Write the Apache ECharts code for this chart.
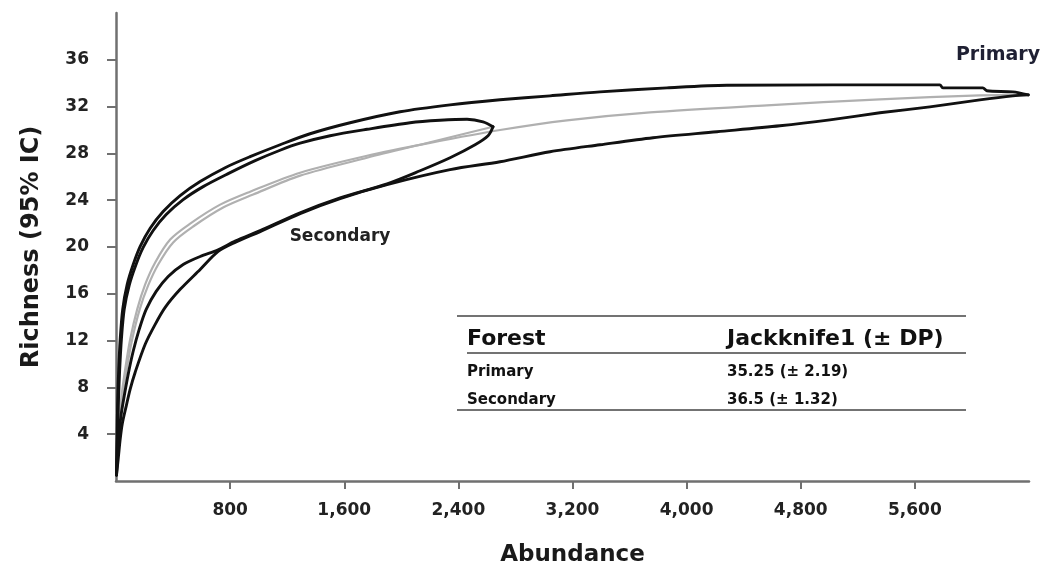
<!DOCTYPE html>
<html><head><meta charset="utf-8">
<script src="https://cdn.jsdelivr.net/npm/echarts@6/dist/echarts.min.js"></script>
<style>html,body{margin:0;padding:0;background:#fff}#c{width:1047px;height:572px}</style>
</head><body><div id="c"></div>
<script>
// ---- data ----
const xTicks = [800, 1600, 2400, 3200, 4000, 4800, 5600];
const yTicks = [4, 8, 12, 16, 20, 24, 28, 32, 36];

const primaryUpper = [[3.5,0.51],[7,3.58],[11.9,6.99],[18.9,9.55],[29.4,12.11],[46.9,14.67],[78.5,16.8],[120.5,18.5],[169.6,20.05],[239.6,21.6],[330.6,23.03],[449.7,24.39],[589.9,25.59],[765,26.78],[940.2,27.72],[1150.4,28.74],[1360.6,29.68],[1640.9,30.62],[1991.2,31.56],[2341.6,32.15],[2692,32.58],[3042.4,32.92],[3392.7,33.26],[3862.2,33.6],[4282.6,33.82],[5775.1,33.86],[5796.1,33.6],[6076.4,33.6],[6104.5,33.35],[6286.6,33.26],[6395,33.0]];
const primaryMean = [[3.5,0.51],[15.4,3.58],[36.4,6.99],[64.5,9.55],[99.5,12.11],[148.6,14.67],[204.6,16.8],[274.7,18.68],[379.8,20.64],[519.9,22.0],[730.1,23.62],[940.4,24.73],[1290.7,26.35],[1760.1,27.8],[2201.6,28.9],[2692.1,30.0],[3161.5,30.83],[3743.1,31.51],[4562.9,32.11],[5354.7,32.62],[6055.5,32.96],[6395,33.0]];
const primaryLower = [[3.5,0.51],[15.4,1.88],[29.4,3.58],[43.4,4.86],[71.5,6.4],[99.5,7.85],[134.5,9.3],[204.6,11.69],[274.7,13.39],[344.8,14.84],[449.9,16.38],[590,18.08],[716.1,19.62],[835.2,20.39],[1010.4,21.32],[1290.7,22.86],[1571,24.14],[1900.3,25.33],[2341.8,26.61],[2692.1,27.29],[3042.5,28.14],[3392.8,28.74],[3764.2,29.34],[4212.7,29.85],[4654.1,30.36],[5004.4,30.87],[5354.8,31.47],[5705.1,31.98],[6055.5,32.58],[6286.7,32.92],[6395,33.0]];

const secondaryUpper = [[3.5,0.51],[9.8,3.58],[17.5,6.99],[25.9,9.55],[37.8,12.11],[57.5,14.67],[92.5,16.72],[138,18.42],[190.6,19.96],[260.7,21.41],[351.8,22.77],[470.9,24.05],[611.1,25.16],[786.3,26.27],[975.5,27.38],[1150.4,28.27],[1290.6,28.87],[1500.9,29.51],[1760.1,30.06],[2061.4,30.62],[2271.6,30.83],[2460.8,30.92],[2572.9,30.7],[2643,30.28]];
const secondaryMean = [[3.5,0.51],[18.9,3.58],[43.4,6.99],[75,9.55],[113.5,12.11],[166.1,14.67],[225.6,16.72],[295.7,18.51],[400.8,20.39],[540.9,21.75],[751.1,23.37],[961.3,24.48],[1290.7,26.1],[1760.1,27.63],[2201.6,28.95],[2643,30.28]];
const secondaryLower = [[3.5,0.51],[11.9,2.56],[22.4,4.26],[36.4,5.71],[57.4,7.25],[85.5,9.13],[120.5,11.09],[162.6,12.96],[211.6,14.67],[281.7,16.21],[365.8,17.48],[470.9,18.51],[590,19.19],[716.1,19.75],[835.2,20.5],[1010.4,21.4],[1290.7,22.93],[1571,24.2],[1900.3,25.4],[2131.6,26.52],[2341.8,27.63],[2517,28.74],[2608.1,29.51],[2643,30.28]];

const tableHeader = ['Forest', 'Jackknife1 (\u00b1 DP)'];
const tableRows = [['Primary', '35.25 (\u00b1 2.19)'], ['Secondary', '36.5 (\u00b1 1.32)']];
const curveLabels = [{text: 'Primary', x: 998, y: 55, size: 19, color: '#1f2033'}, {text: 'Secondary', x: 340, y: 237, size: 17, color: '#222'}];

// ---- chart ----
const chart = echarts.init(document.getElementById('c'));
const FONT = 'DejaVu Sans';
const axisColor = '#707070';
const txt = '#1a1a1a';

function line(name, data, color, width, z) {
  return {
    name, type: 'line', data, showSymbol: false, symbol: 'none',
    smooth: 0.3, z,
    lineStyle: {color, width, join: 'round', cap: 'round'}, silent: true
  };
}

const graphics = [];
curveLabels.forEach(l => graphics.push({
  type: 'text', x: l.x, y: l.y,
  style: {text: l.text, fill: l.color, font: 'bold ' + l.size + 'px "' + FONT + '"', align: 'center', verticalAlign: 'middle'}
}));
const tx0 = 457, tx1 = 966, col1 = 467, col2 = 727;
[[316, tx0], [353, 467], [410, tx0]].forEach(([y, x0]) => graphics.push({
  type: 'line', shape: {x1: x0, y1: y, x2: tx1, y2: y}, style: {stroke: '#444', lineWidth: 1.3}
}));
graphics.push({type: 'text', x: col1, y: 339, style: {text: tableHeader[0], fill: '#111', font: 'bold 22px "' + FONT + '"', verticalAlign: 'middle'}});
graphics.push({type: 'text', x: col2, y: 339, style: {text: tableHeader[1], fill: '#111', font: 'bold 22px "' + FONT + '"', verticalAlign: 'middle'}});
tableRows.forEach((r, i) => {
  const y = 372 + i * 28;
  graphics.push({type: 'text', x: col1, y, style: {text: r[0], fill: '#111', font: 'bold 15px "' + FONT + '"', verticalAlign: 'middle'}});
  graphics.push({type: 'text', x: col2, y, style: {text: r[1], fill: '#111', font: 'bold 15px "' + FONT + '"', verticalAlign: 'middle'}});
});

chart.setOption({
  animation: false,
  backgroundColor: '#fff',
  grid: {left: 116, right: 18, top: 13, bottom: 90},
  xAxis: {
    type: 'value', min: 0, max: 6400, interval: 800,
    name: 'Abundance', nameLocation: 'middle', nameGap: 63,
    nameTextStyle: {fontFamily: FONT, fontWeight: 'bold', fontSize: 23, color: txt},
    axisLine: {show: true, lineStyle: {color: axisColor, width: 2.5}},
    axisTick: {show: true, length: 8, lineStyle: {color: axisColor, width: 2}, customValues: xTicks},
    axisLabel: {customValues: xTicks, margin: 21, fontFamily: FONT, fontWeight: 'bold', fontSize: 17, color: '#222',
      formatter: v => Number(v).toLocaleString('en-US')},
    splitLine: {show: false}
  },
  yAxis: {
    type: 'value', min: 0, max: 40, interval: 4,
    name: 'Richness (95% IC)', nameLocation: 'middle', nameGap: 72,
    nameTextStyle: {fontFamily: FONT, fontWeight: 'bold', fontSize: 24, color: txt},
    axisLine: {show: true, lineStyle: {color: axisColor, width: 2.5}},
    axisTick: {show: true, length: 9, lineStyle: {color: axisColor, width: 2}, customValues: yTicks},
    axisLabel: {customValues: yTicks, margin: 27, fontFamily: FONT, fontWeight: 'bold', fontSize: 17, color: '#222'},
    splitLine: {show: false}
  },
  series: [
    line('Primary mean', primaryMean, '#b0b0b0', 2.2, 2),
    line('Secondary mean', secondaryMean, '#b0b0b0', 2.2, 2),
    line('Primary upper', primaryUpper, '#111', 2.9, 3),
    line('Primary lower', primaryLower, '#111', 2.9, 3),
    line('Secondary upper', secondaryUpper, '#111', 2.9, 3),
    line('Secondary lower', secondaryLower, '#111', 2.9, 3)
  ],
  graphic: graphics
});
</script>
</body></html>
